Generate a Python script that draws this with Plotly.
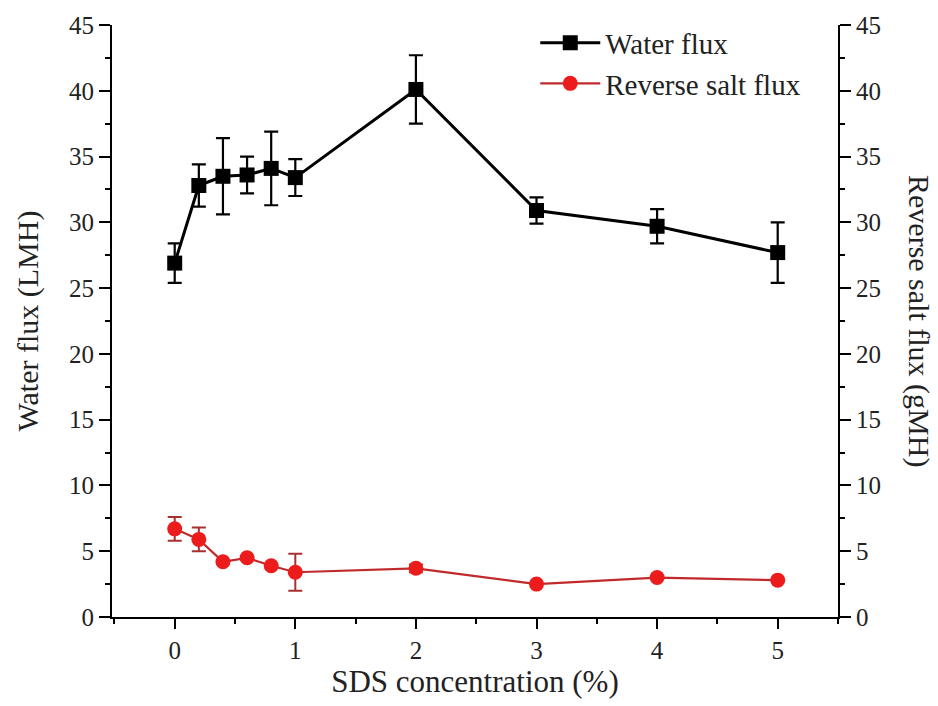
import plotly.graph_objects as go

sds = [0, 0.2, 0.4, 0.6, 0.8, 1, 2, 3, 4, 5]
water_flux = [26.9, 32.8, 33.5, 33.6, 34.1, 33.4, 40.1, 30.9, 29.7, 27.7]
water_err = [1.5, 1.6, 2.9, 1.4, 2.8, 1.4, 2.6, 1.0, 1.3, 2.3]
salt_flux = [6.7, 5.9, 4.2, 4.5, 3.9, 3.4, 3.7, 2.5, 3.0, 2.8]
salt_err = [0.9, 0.9, 0.0, 0.0, 0.0, 1.4, 0.3, 0.0, 0.0, 0.0]
y_ticks = [0, 5, 10, 15, 20, 25, 30, 35, 40, 45]
x_ticks = [0, 1, 2, 3, 4, 5]

font_family = "Times New Roman"
txt_color = "#222"

fig = go.Figure()
fig.add_trace(go.Scatter(
    x=sds, y=water_flux, name="Water flux", mode="lines+markers",
    line=dict(color="black", width=3),
    marker=dict(symbol="square", size=15, color="black"),
    error_y=dict(type="data", array=water_err, visible=True, color="black", thickness=2.2, width=7),
))
fig.add_trace(go.Scatter(
    x=sds, y=salt_flux, name="Reverse salt flux", mode="lines+markers",
    line=dict(color="#c02a2c", width=2.2),
    marker=dict(symbol="circle", size=15, color="#ec1c1c"),
    error_y=dict(type="data", array=salt_err, visible=True, color="#a83030", thickness=2, width=7),
    yaxis="y2",
))

axis_common = dict(
    range=[0, 45], tickvals=y_ticks, showline=True, linecolor="black", linewidth=2,
    ticks="outside", ticklen=11, tickwidth=2, tickcolor="black",
    minor=dict(ticks="outside", ticklen=5, tickwidth=2, tickcolor="black", dtick=2.5),
    showgrid=False, zeroline=False,
    tickfont=dict(family=font_family, size=25, color=txt_color),
)

fig.update_layout(
    width=938, height=706,
    margin=dict(l=112, r=100, t=22, b=89),
    plot_bgcolor="white", paper_bgcolor="white",
    font=dict(family=font_family, color=txt_color),
    xaxis=dict(
        range=[-0.52, 5.5], tickvals=x_ticks, showline=True, linecolor="black", linewidth=2,
        ticks="outside", ticklen=10, tickwidth=2, tickcolor="black",
        minor=dict(ticks="outside", ticklen=5, tickwidth=2, tickcolor="black", dtick=0.5, tick0=0),
        showgrid=False, zeroline=False,
        tickfont=dict(family=font_family, size=25, color=txt_color),
        title=dict(text="SDS concentration (%)", font=dict(family=font_family, size=31, color=txt_color), standoff=5),
    ),
    yaxis=dict(
        **axis_common,
        title=dict(text="Water flux (LMH)", font=dict(family=font_family, size=30, color=txt_color), standoff=22),
    ),
    yaxis2=dict(
        **axis_common, overlaying="y", side="right",
    ),
    legend=dict(
        x=0.583, y=1.013, xanchor="left", yanchor="top",
        font=dict(family=font_family, size=29, color=txt_color),
        bgcolor="rgba(0,0,0,0)", tracegroupgap=0, itemwidth=60,
    ),
    annotations=[dict(
        text="Reverse salt flux (gMH)", xref="paper", yref="paper",
        x=1.0, y=0.5, xshift=100, showarrow=False, textangle=90,
        font=dict(family=font_family, size=30, color=txt_color),
    )],
)

fig.write_html("out.html")
